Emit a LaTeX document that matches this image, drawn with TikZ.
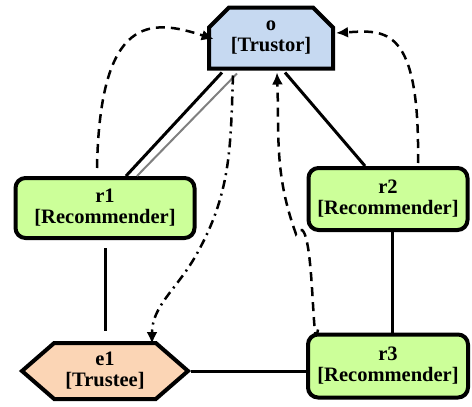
\documentclass[tikz,border=0pt]{standalone}
\usepackage{fontspec}
\setmainfont{Liberation Serif}
\usetikzlibrary{shapes.misc,shapes.symbols,arrows.meta,calc}
\definecolor{trustorblue}{RGB}{198,217,241}
\definecolor{recgreen}{RGB}{204,255,153}
\definecolor{trusteepeach}{RGB}{251,213,181}

\begin{document}
\begin{tikzpicture}[x=1pt,y=-1pt,>={Latex[length=12pt,width=11pt]},
    box/.style={draw,line width=4pt,align=center,inner sep=2pt,
        font=\fontsize{20.5}{21}\selectfont\bfseries},
    rec/.style={box,rounded corners=10pt,fill=recgreen},
    link/.style={line width=3pt},
    trust/.style={->,line width=2.5pt,dash pattern=on 9pt off 6pt},
    ask/.style={->,line width=2.5pt,dash pattern=on 9pt off 5pt on 2pt off 5pt}]
    \useasboundingbox (0,0) rectangle (472,407);
    % nodes
    \node[box,chamfered rectangle,chamfered rectangle corners={north west,north east},
        chamfered rectangle xsep=10pt,chamfered rectangle ysep=10pt,
        fill=trustorblue,minimum width=124pt,minimum height=61pt] (o) at (271,38) {o\\{[Trustor]}};
    \node[rec,minimum width=179pt,minimum height=60pt] (r1) at (105,208) {r1\\{[Recommender]}};
    \node[rec,minimum width=159pt,minimum height=62pt] (r2) at (388,199) {r2\\{[Recommender]}};
    \node[rec,minimum width=160pt,minimum height=63pt] (r3) at (388,366) {r3\\{[Recommender]}};
    \node[box,signal,signal to=west and east,signal pointer angle=82,
        fill=trusteepeach,minimum width=166pt,minimum height=56pt] (e1) at (105,371) {e1\\{[Trustee]}};
    % links
    \draw[link] ($(o.south west)+(15,2)$) -- ($(r1.north)+(21,0)$);
    \draw[gray,line width=2pt] ($(o.south west)+(30,3)$) -- ($(r1.north)+(32,0)$);
    \draw[link] ($(o.south east)+(-50,2)$) -- ($(r2.north)+(-23,0)$);
    \draw[link,shorten <=8pt,shorten >=10pt] (r1.south) -- (e1.north);
    \draw[link] ($(r2.south)+(4,0)$) -- ($(r3.north)+(4,0)$);
    \draw[link] (e1.east) -- (e1.east -| r3.west);
    % trust arrows
    \draw[trust] ($(r1.north)+(-8,-8)$) .. controls (100,15) and (150,18) .. ($(o.north west)+(-4,23)$);
    \draw[trust] ($(r2.north)+(30,-3)$) .. controls (420,25) and (385,30) .. ($(o.east)+(1,-5)$);
    \draw[trust] ($(r3.north)+(-70,-3)$) to[out=-100,in=60] (296,234) to[out=110,in=-88] ($(o.south)+(6,2)$);
    \draw[ask] ($(o.south)+(-38,5)$) to[out=-92,in=60] (195,257) to[out=-120,in=90] ($(e1.north)+(47,3)$);
\end{tikzpicture}
\end{document}
